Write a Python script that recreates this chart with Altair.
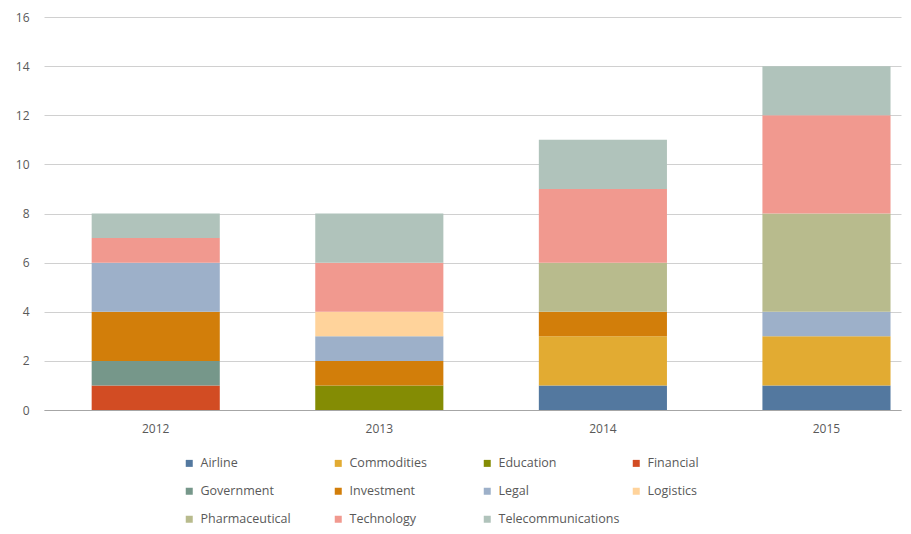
import altair as alt
import pandas as pd

years = ["2012", "2013", "2014", "2015"]
sectors = ["Airline", "Commodities", "Education", "Financial", "Government",
           "Investment", "Legal", "Logistics", "Pharmaceutical", "Technology",
           "Telecommunications"]
colors = ["#53789F", "#E2AB32", "#848C04", "#D24C23", "#76978A", "#D27E0A",
          "#9DB0C9", "#FFD39B", "#B8BB8D", "#F1998F", "#B0C3BB"]

airline = [0, 0, 1, 1]
commodities = [0, 0, 2, 2]
education = [0, 1, 0, 0]
financial = [1, 0, 0, 0]
government = [1, 0, 0, 0]
investment = [2, 1, 1, 0]
legal = [2, 1, 0, 1]
logistics = [0, 1, 0, 0]
pharmaceutical = [0, 0, 2, 4]
technology = [1, 2, 3, 4]
telecommunications = [1, 2, 2, 2]

series = [airline, commodities, education, financial, government, investment,
          legal, logistics, pharmaceutical, technology, telecommunications]

rows = []
for i, (name, vals) in enumerate(zip(sectors, series)):
    for y, v in zip(years, vals):
        if v > 0:
            rows.append({"Year": y, "Sector": name, "Count": v, "idx": i})
df = pd.DataFrame(rows)

FONT = "Open Sans"
TXT = "#595959"

chart = alt.Chart(df).mark_bar().encode(
    x=alt.X("Year:N",
            scale=alt.Scale(paddingInner=0.427, paddingOuter=0.13, align=0.82),
            axis=alt.Axis(title=None, labelAngle=0, domainColor="#A6A6A6",
                          ticks=False, labelPadding=13, labelColor=TXT,
                          labelFontSize=12, labelFont=FONT, grid=False)),
    y=alt.Y("Count:Q", stack="zero",
            scale=alt.Scale(domain=[0, 16], nice=False),
            axis=alt.Axis(title=None, values=list(range(0, 17, 2)), domain=False,
                          ticks=False, gridColor="#D0D0D0", labelPadding=15,
                          labelColor=TXT, labelFontSize=12, labelFont=FONT)),
    color=alt.Color("Sector:N",
                    scale=alt.Scale(domain=sectors, range=colors),
                    legend=alt.Legend(title=None, orient="none", legendX=139,
                                      legendY=440, columns=4, gridAlign="all",
                                      direction="horizontal",
                                      symbolType="square", symbolSize=49,
                                      symbolStrokeWidth=0, labelFontSize=12.5,
                                      labelFont=FONT, labelColor=TXT,
                                      rowPadding=15, columnPadding=10,
                                      labelOffset=5, padding=0)),
    order=alt.Order("idx:Q"),
).properties(
    width=857, height=393,
    autosize=alt.AutoSizeParams(type="none"),
    padding={"left": 36, "top": 9, "right": 2, "bottom": 116},
).configure_view(stroke=None)

chart.save("out.html", embed_options={"renderer": "svg", "actions": False})
